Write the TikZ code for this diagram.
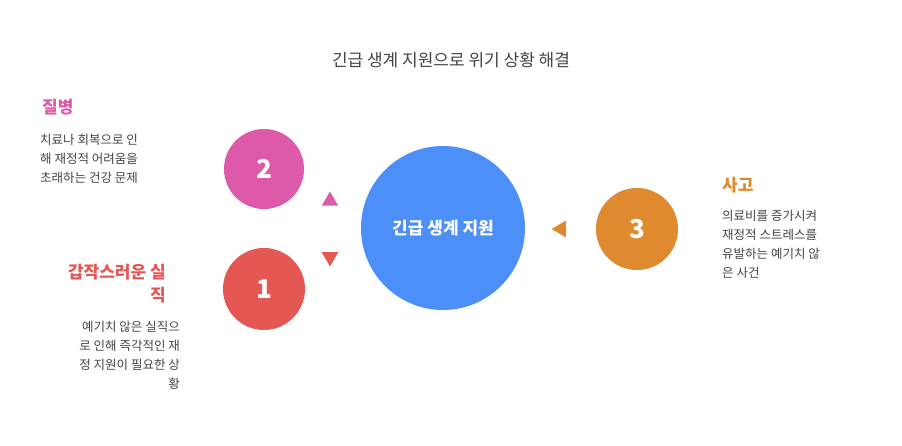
\documentclass[tikz,border=0pt]{standalone}
\usepackage{fontspec}
\usetikzlibrary{shapes.geometric}
\setmainfont{Noto Sans CJK KR}
\definecolor{pinkc}{HTML}{DD5AAA}
\definecolor{redc}{HTML}{E55753}
\definecolor{orc}{HTML}{E08A2F}
\definecolor{bluec}{HTML}{4D8FF9}
\definecolor{txt}{HTML}{444444}
\begin{document}
\begin{tikzpicture}[x=1pt,y=-1pt,
  circ/.style={circle,inner sep=0,text=white,font=\fontsize{26}{30}\selectfont\bfseries},
  desc/.style={text=txt,font=\fontsize{12.5}{19}\selectfont,inner sep=0},
  head/.style={font=\fontsize{17}{22}\selectfont\bfseries,inner sep=0},
  tri/.style={regular polygon,regular polygon sides=3,inner sep=0,minimum size=19pt}]
\useasboundingbox[fill=white] (0,0) rectangle (902,446);
\node[text=txt,font=\fontsize{17}{20}\selectfont] (title) at (451,60) {긴급 생계 지원으로 위기 상황 해결};
\node[circ,fill=bluec,minimum size=164pt,font=\fontsize{17}{20}\selectfont\bfseries] (c) at (443,228) {긴급 생계 지원};
\node[circ,fill=pinkc,minimum size=80pt] (c2) at (264,169) {2};
\node[circ,fill=redc,minimum size=82pt] (c1) at (264,289) {1};
\node[circ,fill=orc,minimum size=82pt] (c3) at (637,229) {3};
\node[tri,fill=pinkc] (t2) at (330,201) {};
\node[tri,fill=redc,shape border rotate=180] (t1) at (330,257) {};
\node[tri,fill=orc,shape border rotate=90] (t3) at (561,229) {};
\node[head,text=pinkc,anchor=west] (h2) at (42,107) {질병};
\node[desc,anchor=north west,align=left] (d2) at (40,134) {치료나 회복으로 인\\해 재정적 어려움을\\초래하는 건강 문제};
\node[head,text=redc,anchor=north east,align=right,font=\fontsize{17}{23}\selectfont\bfseries] (h1) at (166,264) {갑작스러운 실\\직};
\node[desc,anchor=north east,align=right] (d1) at (180,321) {예기치 않은 실직으\\로 인해 즉각적인 재\\정 지원이 필요한 상\\황};
\node[head,text=orc,anchor=west] (h3) at (722,185) {사고};
\node[desc,anchor=north west,align=left] (d3) at (722,210) {의료비를 증가시켜\\재정적 스트레스를\\유발하는 예기치 않\\은 사건};
\end{tikzpicture}
\end{document}
